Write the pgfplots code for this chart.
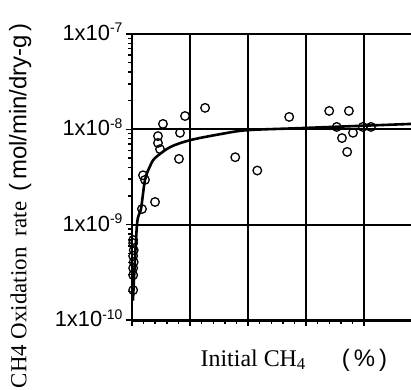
\documentclass[border=0pt]{standalone}
\usepackage{pgfplots}
\pgfplotsset{compat=1.18}
\usepackage{fontspec}
\setmainfont{Liberation Serif}
\setsansfont{Liberation Sans}
\newcommand{\expo}[1]{\raisebox{7.5bp}{\fontsize{14}{14}\selectfont #1}}
\begin{document}
\begin{tikzpicture}
\begin{axis}[
  name=ax, at={(0,0)}, anchor=south west,
  scale only axis, width=279bp, height=286bp,
  xmin=0, xmax=48.1,
  ymode=log, ymin=1e-10, ymax=1e-7,
  axis x line*=bottom, axis y line*=left, axis line style={-},
  x axis line style={line width=3bp},
  y axis line style={line width=2.2bp},
  xtick={0,10,20,30,40}, xticklabels={}, minor x tick num=4,
  ytick={1e-10,1e-9,1e-8,1e-7},
  yticklabels={1x10\expo{-10},1x10\expo{-9},1x10\expo{-8},1x10\expo{-7}},
  yticklabel style={font=\sffamily\fontsize{22}{22}\selectfont, anchor=east, yshift=2bp},
  tick align=outside, major tick length=6bp, minor tick length=3.5bp,
  tick style={black, line width=1.4bp},
  xmajorgrids, ymajorgrids,
  major grid style={black, line width=2bp},
  clip=false,
  xlabel={{\fontsize{24}{24}\selectfont Initial CH\textsubscript{4}}\hspace{36bp}{\sffamily\fontsize{24}{24}\selectfont (\,\%\,)}},
  xlabel style={at={(axis description cs:0.58,-0.14)}, anchor=center},
  ylabel={{\fontsize{23}{23}\selectfont CH4 Oxidation\ \ rate}\hspace{10bp}{\sffamily\fontsize{24}{24}\selectfont (\,mol/min/dry-g\,)}},
  ylabel style={at={(axis description cs:-0.401,0.40)}, anchor=center},
]
% fitted curve
\addplot[black, line width=2.6bp, smooth, tension=0.5] coordinates {
  (0.17,1.6e-10) (0.86,1.0e-9) (1.55,1.46e-9) (2.24,2.95e-9) (3.1,4.1e-9)
  (3.97,5.0e-9) (6.55,6.5e-9) (10,7.7e-9) (15.2,8.9e-9) (19.8,9.8e-9)
  (29,1.03e-8) (48.1,1.14e-8)
};
% measured points
\addplot[only marks, mark=o, mark size=4.3bp, mark options={black, line width=1.3bp}] coordinates {
  (0.2,6.9e-10) (0.2,6.4e-10) (0.3,5.4e-10) (0.2,4.7e-10) (0.3,4.05e-10)
  (0.2,3.5e-10) (0.2,2.96e-10) (0.2,2.06e-10)
  (1.72,1.46e-9) (1.9,3.3e-9) (2.24,2.95e-9) (3.97,1.73e-9)
  (4.48,8.5e-9) (4.48,7.2e-9) (4.83,6.2e-9) (5.34,1.14e-8)
  (8.28,9.2e-9) (8.1,4.9e-9) (9.14,1.38e-8) (12.6,1.68e-8)
  (17.8,5.1e-9) (21.6,3.7e-9) (27.1,1.35e-8)
  (34,1.56e-8) (37.4,1.56e-8) (35.3,1.06e-8) (36.2,8.1e-9)
  (37.1,5.8e-9) (38.1,9.2e-9) (39.8,1.06e-8) (41.2,1.06e-8)
};
\end{axis}
\pgfresetboundingbox
\path (-132bp,-70bp) rectangle (279bp,320bp);
\end{tikzpicture}
\end{document}
